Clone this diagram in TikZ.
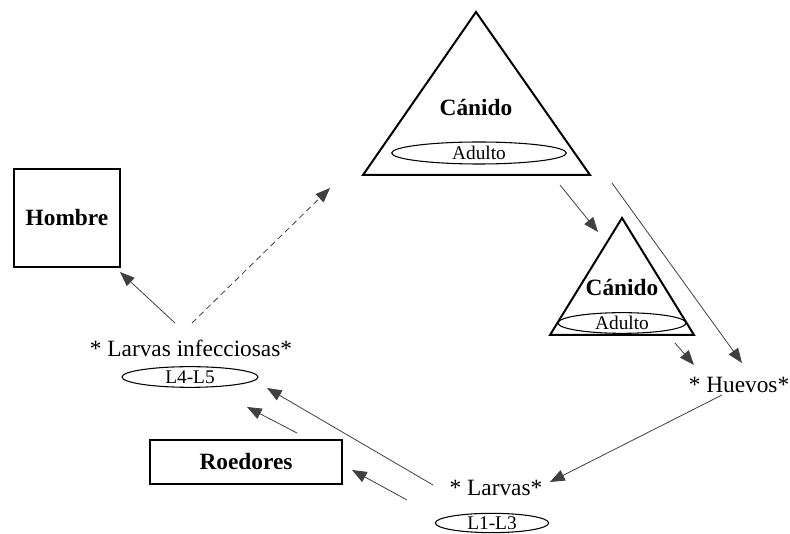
\documentclass[tikz,border=0pt]{standalone}
\usepackage{fontspec}
\setmainfont{Liberation Serif}
\usetikzlibrary{arrows.meta}
\usetikzlibrary{shapes.geometric}

\begin{document}
\begin{tikzpicture}[x=0.75pt,y=-0.75pt,
        caja/.style={draw,line width=1.3pt,font=\fontsize{17.5}{20}\selectfont\bfseries},
        texto/.style={font=\fontsize{17.5}{20}\selectfont},
        titulo/.style={font=\fontsize{17.5}{20}\selectfont\bfseries},
        estadio/.style={draw,ellipse,line width=0.8pt,inner sep=0pt,font=\fontsize{14.5}{16}\selectfont},
        flecha/.style={draw=black!75,line width=0.6pt,-{Triangle[length=11pt,width=8.5pt]}}]
                \useasboundingbox (0,0) rectangle (790,534);
                \draw[line width=1.5pt] (363,175) -- (476,12) -- (590,175) -- cycle;
                \draw[line width=1.5pt] (550,335) -- (622,218) -- (694,335) -- cycle;
                \node[titulo] (canido1) at (476,108) {Cánido};
                \node[estadio,minimum width=131pt,minimum height=16.5pt] (adulto1) at (479,153) {Adulto};
                \node[titulo] (canido2) at (622,288) {Cánido};
                \node[estadio,minimum width=96pt,minimum height=15.5pt] (adulto2) at (622,323) {Adulto};
                \node[caja,minimum width=80pt,minimum height=73pt] (hombre) at (67,218) {Hombre};
                \node[caja,minimum width=144pt,minimum height=33pt] (roedores) at (246,462) {Roedores};
                \node[texto] (infec) at (191,348) {* Larvas infecciosas*};
                \node[estadio,minimum width=102pt,minimum height=15.5pt] (l45) at (190,377) {L4-L5};
                \node[texto] (huevos) at (739,385) {* Huevos*};
                \node[texto] (larvas) at (496,488) {* Larvas*};
                \node[estadio,minimum width=85pt,minimum height=14.5pt] (l13) at (492,523) {L1-L3};
                \coordinate (a1) at (560,185);
                \coordinate (a2) at (598,232);
                \coordinate (b1) at (612,183);
                \coordinate (b2) at (742,363);
                \coordinate (c1) at (675,343);
                \coordinate (c2) at (694,365);
                \coordinate (d1) at (722,395);
                \coordinate (d2) at (550,482);
                \coordinate (e1) at (433,485);
                \coordinate (e2) at (267,388);
                \coordinate (f1) at (407,500);
                \coordinate (f2) at (352,470);
                \coordinate (g1) at (297,433);
                \coordinate (g2) at (247,407);
                \coordinate (h1) at (175,323);
                \coordinate (h2) at (120,272);
                \coordinate (i1) at (192,323);
                \coordinate (i2) at (330,188);
                \draw[flecha] (a1) -- (a2);
                \draw[flecha] (b1) -- (b2);
                \draw[flecha] (c1) -- (c2);
                \draw[flecha] (d1) -- (d2);
                \draw[flecha] (e1) -- (e2);
                \draw[flecha] (f1) -- (f2);
                \draw[flecha] (g1) -- (g2);
                \draw[flecha] (h1) -- (h2);
                \draw[flecha,dash pattern=on 4.5pt off 3pt] (i1) -- (i2);
            \end{tikzpicture}
\end{document}
